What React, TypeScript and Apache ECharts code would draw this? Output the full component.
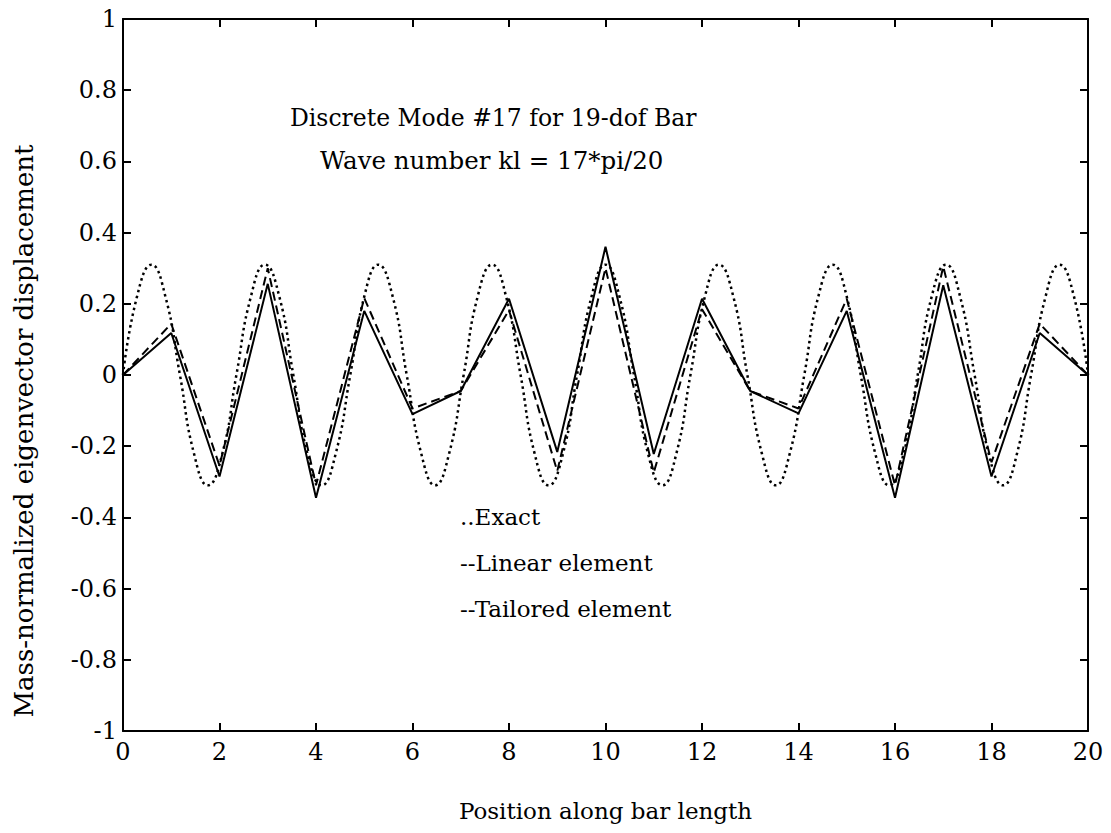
import React, { useEffect, useRef } from "react";
import * as echarts from "echarts";

// Nodal positions and discrete mode values
const nodeX = [0, 1, 2, 3, 4, 5, 6, 7, 8, 9, 10, 11, 12, 13, 14, 15, 16, 17, 18, 19, 20];
const tailoredY = [0, 0.118, -0.285, 0.256, -0.345, 0.18, -0.11, -0.045, 0.214, -0.216, 0.36, -0.222, 0.214, -0.045, -0.108, 0.18, -0.345, 0.252, -0.285, 0.118, 0];
const linearY = [0, 0.144, -0.255, 0.30, -0.31, 0.216, -0.094, -0.045, 0.182, -0.27, 0.30, -0.274, 0.185, -0.045, -0.094, 0.214, -0.31, 0.305, -0.245, 0.144, 0];

// Exact (dotted) curve points
const exactX = [0, 0.29, 0.59, 0.88, 1.18, 1.47, 1.76, 2.06, 2.35, 2.65, 2.94, 3.24, 3.53, 3.82, 4.12, 4.41, 4.71, 5.0, 5.29, 5.59, 5.88, 6.18, 6.47, 6.76, 7.06, 7.35, 7.65, 7.94, 8.24, 8.53, 8.82, 9.12, 9.41, 9.71, 10.0, 10.29, 10.59, 10.88, 11.18, 11.47, 11.76, 12.06, 12.35, 12.65, 12.94, 13.24, 13.53, 13.82, 14.12, 14.41, 14.71, 15.0, 15.29, 15.59, 15.88, 16.18, 16.47, 16.76, 17.06, 17.35, 17.65, 17.94, 18.24, 18.53, 18.82, 19.12, 19.41, 19.71, 20.0];
const exactY = [0, 0.22, 0.31, 0.22, 0, -0.22, -0.31, -0.22, 0, 0.22, 0.31, 0.22, 0, -0.22, -0.31, -0.22, 0, 0.22, 0.31, 0.22, 0, -0.22, -0.31, -0.22, 0, 0.22, 0.31, 0.22, 0, -0.22, -0.31, -0.22, 0, 0.22, 0.31, 0.22, 0, -0.22, -0.31, -0.22, 0, 0.22, 0.31, 0.22, 0, -0.22, -0.31, -0.22, 0, 0.22, 0.31, 0.22, 0, -0.22, -0.31, -0.22, 0, 0.22, 0.31, 0.22, 0, -0.22, -0.31, -0.22, 0, 0.22, 0.31, 0.22, 0];

const titleLines = ["Discrete Mode #17 for 19-dof Bar", "Wave number kl = 17*pi/20"];
const legendLines = ["..Exact", "--Linear element", "--Tailored element"];
const xAxisTitle = "Position along bar length";
const yAxisTitle = "Mass-normalized eigenvector displacement";

const FONT = '"DejaVu Serif", "Liberation Serif", serif';

export default function App() {
  const ref = useRef<HTMLDivElement>(null);
  useEffect(() => {
    if (!ref.current) return;
    const chart = echarts.init(ref.current, undefined, { renderer: "svg" });
    const axisCommon = {
      axisLine: { show: true, onZero: false, lineStyle: { color: "#000", width: 2 } },
      axisTick: { show: true, inside: true, length: 8, lineStyle: { color: "#000", width: 2 } },
      splitLine: { show: false },
    };
    const txt = (s: string, x: number, y: number, size: number) => ({
      type: "text",
      x,
      y,
      style: { text: s, fill: "#000", fontSize: size, fontFamily: FONT, textVerticalAlign: "middle", verticalAlign: "middle" },
    });
    chart.setOption({
      animation: false,
      backgroundColor: "#fff",
      grid: { left: 123, right: 23, top: 19, bottom: 102, containLabel: false },
      xAxis: [
        {
          type: "value", min: 0, max: 20, interval: 2, position: "bottom",
          ...axisCommon,
          axisLabel: { color: "#000", fontSize: 24, fontFamily: FONT, margin: 9 },
          name: xAxisTitle, nameLocation: "middle", nameGap: 68,
          nameTextStyle: { color: "#000", fontSize: 23, fontFamily: FONT },
        },
        { type: "value", min: 0, max: 20, interval: 2, position: "top", ...axisCommon, axisLabel: { show: false } },
      ],
      yAxis: [
        {
          type: "value", min: -1, max: 1, interval: 0.2, position: "left",
          ...axisCommon,
          axisLabel: { color: "#000", fontSize: 24, fontFamily: FONT, margin: 6, formatter: (v: number) => String(Math.round(v * 10) / 10) },
        },
        { type: "value", min: -1, max: 1, interval: 0.2, position: "right", ...axisCommon, axisLabel: { show: false } },
      ],
      series: [
        {
          name: "Exact", type: "line", smooth: 0.5, showSymbol: false,
          data: exactX.map((x, i) => [x, exactY[i]]),
          lineStyle: { color: "#000", width: 2.5, type: [2.5, 3.5] },
        },
        {
          name: "Linear element", type: "line", showSymbol: false,
          data: nodeX.map((x, i) => [x, linearY[i]]),
          lineStyle: { color: "#000", width: 2, type: [9, 5] },
        },
        {
          name: "Tailored element", type: "line", showSymbol: false,
          data: nodeX.map((x, i) => [x, tailoredY[i]]),
          lineStyle: { color: "#000", width: 2, type: "solid" },
        },
      ],
      graphic: [
        txt(titleLines[0], 290, 118, 23.5),
        txt(titleLines[1], 320, 160, 24.5),
        txt(legendLines[0], 460, 517, 23),
        txt(legendLines[1], 460, 563, 23),
        txt(legendLines[2], 460, 609, 23),
        {
          type: "text",
          x: 24,
          y: 431,
          rotation: Math.PI / 2,
          style: { text: yAxisTitle, fill: "#000", fontSize: 26, fontFamily: FONT, align: "center", verticalAlign: "middle", textAlign: "center", textVerticalAlign: "middle" },
        },
      ],
    });
    return () => chart.dispose();
  }, []);
  return <div ref={ref} style={{ position: "fixed", left: 0, top: 0, width: 1111, height: 833, background: "#fff" }} />;
}
